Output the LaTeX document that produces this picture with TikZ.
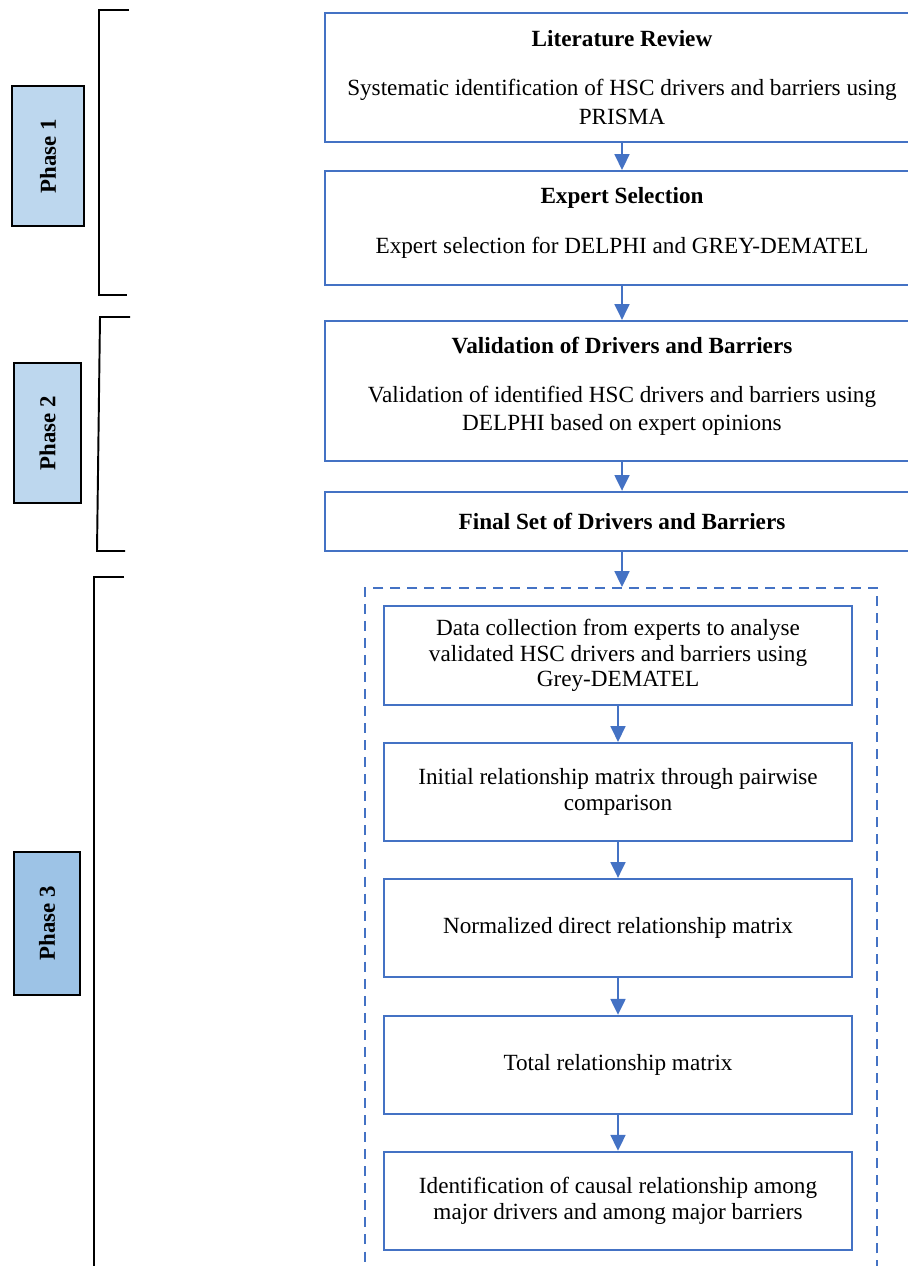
\documentclass[tikz,border=0pt]{standalone}
\usepackage{fontspec}
\setmainfont{Liberation Serif}
\usetikzlibrary{arrows.meta, positioning}
\definecolor{flowblue}{RGB}{68,114,196}
\definecolor{phaselight}{RGB}{189,215,238}
\definecolor{phasemid}{RGB}{157,195,230}

\begin{document}
\begin{tikzpicture}[
    stage/.style={draw=flowblue, line width=1.1pt, align=center, inner sep=2pt,
                  font=\fontsize{13.2}{16}\selectfont, minimum width=11.88cm},
    substage/.style={draw=flowblue, line width=1.1pt, align=center, inner sep=2pt,
                  font=\fontsize{13.2}{14.5}\selectfont, minimum width=9.36cm, minimum height=1.96cm},
    phase/.style={draw=black, line width=1.1pt, rotate=90, inner sep=2pt,
                  font=\fontsize{13}{14}\selectfont\bfseries, minimum width=2.8cm},
    flow/.style={draw=flowblue, line width=1.1pt, -{Triangle[width=8.5pt, length=9pt]}},
    brace/.style={draw=black, line width=1.1pt}
]
    \useasboundingbox (0,0) rectangle (18.16,-25.32);
    \clip (0,0) rectangle (18.16,-25.32);

    % Main stages (phases 1 and 2)
    \node[stage, minimum height=2.58cm] (litrev) at (12.44,-1.55)
        {\textbf{Literature Review}\\[12pt]Systematic identification of HSC drivers and barriers using\\PRISMA};
    \node[stage, minimum height=2.28cm, below=0.54cm of litrev] (experts)
        {\textbf{Expert Selection}\\[12pt]Expert selection for DELPHI and GREY-DEMATEL\\[-7.5pt]};
    \node[stage, minimum height=2.80cm, below=0.68cm of experts] (validate)
        {\textbf{Validation of Drivers and Barriers}\\[12pt]Validation of identified HSC drivers and barriers using\\DELPHI based on expert opinions\\[-8pt]};
    \node[stage, minimum height=1.18cm, below=0.58cm of validate] (finalset)
        {\textbf{Final Set of Drivers and Barriers}};

    \draw[flow] (litrev) -- (experts);
    \draw[flow] (experts) -- (validate);
    \draw[flow] (validate) -- (finalset);

    % Grey-DEMATEL block (phase 3)
    \node[draw=flowblue, line width=1.1pt, dash pattern=on 5.7pt off 4pt,
          minimum width=10.24cm, minimum height=15cm, anchor=north] (greybox) at (12.42,-11.74) {};
    \draw[flow] (finalset.south) -- (finalset.south |- greybox.north);

    \node[substage, minimum height=1.98cm, below=0.36cm of greybox.north, xshift=-0.06cm] (collect)
        {Data collection from experts to analyse\\validated HSC drivers and barriers using\\Grey-DEMATEL};
    \node[substage, below=0.72cm of collect] (initial)
        {Initial relationship matrix through pairwise\\comparison};
    \node[substage, below=0.72cm of initial] (normal)
        {Normalized direct relationship matrix};
    \node[substage, below=0.74cm of normal] (total)
        {Total relationship matrix};
    \node[substage, below=0.72cm of total] (causal)
        {Identification of causal relationship among\\major drivers and among major barriers};

    \draw[flow] (collect) -- (initial);
    \draw[flow] (initial) -- (normal);
    \draw[flow] (normal) -- (total);
    \draw[flow] (total) -- (causal);

    % Phase labels
    \node[phase, fill=phaselight, minimum height=1.44cm] (phaseone) at (0.96,-3.12) {Phase 1};
    \node[phase, fill=phaselight, minimum height=1.34cm] (phasetwo) at (0.95,-8.66) {Phase 2};
    \node[phase, fill=phasemid, minimum height=1.32cm, minimum width=2.86cm] (phasethree) at (0.94,-18.47) {Phase 3};

    % Brackets
    \draw[brace] (2.58,-0.2) -| (1.98,-5.9) -- (2.54,-5.9);
    \draw[brace] (2.6,-6.34) -- (2.0,-6.34) -- (1.94,-11.02) -- (2.5,-11.02);
    \draw[brace] (2.48,-11.54) -| (1.88,-26);
\end{tikzpicture}
\end{document}
